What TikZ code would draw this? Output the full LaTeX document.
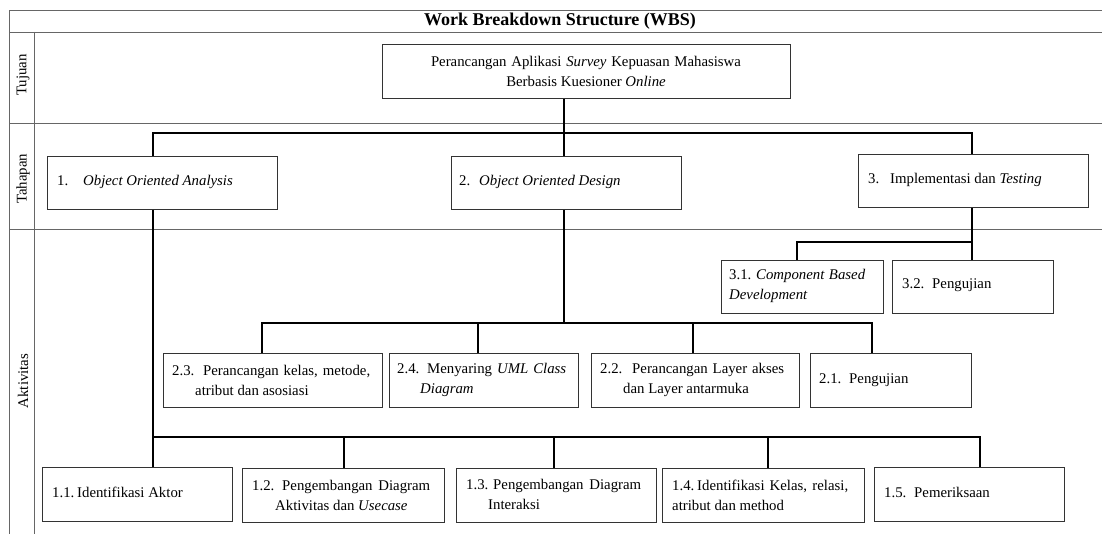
\documentclass[tikz,border=0pt]{standalone}
\usepackage{fontspec}
\setmainfont{Liberation Serif}
\usetikzlibrary{calc}
\newcommand\wnum[2]{\makebox[#1pt][l]{#2}}
\begin{document}
\begin{tikzpicture}[x=1pt,y=-1pt,
  grid/.style={draw=black!60, line width=0.9pt},
  box/.style={draw=black!80, line width=1pt, fill=white, rectangle, inner sep=0pt, anchor=north west},
  conn/.style={draw=black, line width=1.6pt, line join=miter},
  txt/.style={font=\fontsize{14.8}{20}\selectfont, inner sep=0pt, anchor=west, align=left},
  lbl/.style={font=\fontsize{14.8}{17}\selectfont, rotate=90, inner sep=0pt}]
\useasboundingbox (0,0) rectangle (1102,534);
\fill[white] (0,0) rectangle (1102,534);

% table frame
\draw[grid] (1102,10) -- (9,10) -- (9,534);
\draw[grid] (9,32) -- (1102,32);
\draw[grid] (34,32) -- (34,534);
\draw[grid] (9,123) -- (1102,123);
\draw[grid] (9,229) -- (1102,229);

\node[font=\fontsize{18}{20}\selectfont\bfseries, inner sep=0pt] (title) at (560,21) {Work Breakdown Structure (WBS)};
\node[lbl] (ltuj) at (23,75) {Tujuan};
\node[lbl] (ltah) at (23,179) {Tahapan};
\node[lbl] (lakt) at (23,381) {Aktivitas};

% bus coordinates
\coordinate (h0L) at (153,133);
\coordinate (h0M) at (564,133);
\coordinate (h0R) at (972,133);
\coordinate (h3R) at (972,242);
\coordinate (h3L) at (797,242);
\coordinate (h2L) at (262,323);
\coordinate (d24) at (478,323);
\coordinate (h2M) at (564,323);
\coordinate (d22) at (693,323);
\coordinate (h2R) at (872,323);
\coordinate (h1L) at (153,437);
\coordinate (d12) at (344,437);
\coordinate (d13) at (554,437);
\coordinate (d14) at (768,437);
\coordinate (h1R) at (980,437);

% boxes
\node[box, minimum width=408pt, minimum height=54pt] (top) at (382,44) {};
\node[box, minimum width=230pt, minimum height=53pt] (b1) at (47,156) {};
\node[box, minimum width=230pt, minimum height=53pt] (b2) at (451,156) {};
\node[box, minimum width=230pt, minimum height=53pt] (b3) at (858,154) {};
\node[box, minimum width=162pt, minimum height=53pt] (b31) at (721,260) {};
\node[box, minimum width=161pt, minimum height=53pt] (b32) at (892,260) {};
\node[box, minimum width=219pt, minimum height=54pt] (b23) at (163,353) {};
\node[box, minimum width=189pt, minimum height=54pt] (b24) at (389,353) {};
\node[box, minimum width=208pt, minimum height=54pt] (b22) at (591,353) {};
\node[box, minimum width=161pt, minimum height=54pt] (b21) at (810,353) {};
\node[box, minimum width=190pt, minimum height=54pt] (b11) at (42,467) {};
\node[box, minimum width=202pt, minimum height=54pt] (b12) at (242,468) {};
\node[box, minimum width=200pt, minimum height=54pt] (b13) at (456,468) {};
\node[box, minimum width=202pt, minimum height=54pt] (b14) at (662,468) {};
\node[box, minimum width=190pt, minimum height=54pt] (b15) at (874,467) {};

% connectors
\draw[conn] (top.south -| h0M) -- (h0M) -- (b2.north -| h0M);
\draw[conn] (b1.north -| h0L) -- (h0L) -- (h0R) -- (b3.north -| h0R);
\draw[conn] (b3.south -| h3R) -- (b32.north -| h3R);
\draw[conn] (h3R) -- (h3L) -- (b31.north -| h3L);
\draw[conn] (b2.south -| h2M) -- (h2M);
\draw[conn] (b23.north -| h2L) -- (h2L) -- (h2R) -- (b21.north -| h2R);
\draw[conn] (d24) -- (b24.north -| d24);
\draw[conn] (d22) -- (b22.north -| d22);
\draw[conn] (b1.south -| h1L) -- (b11.north -| h1L);
\draw[conn] (h1L) -- (h1R) -- (b15.north -| h1R);
\draw[conn] (d12) -- (b12.north -| d12);
\draw[conn] (d13) -- (b13.north -| d13);
\draw[conn] (d14) -- (b14.north -| d14);

% texts
\node[txt, anchor=center, align=center] (ttop) at (586,71) {\makebox[310pt][s]{Perancangan Aplikasi \textit{Survey} Kepuasan Mahasiswa}\\Berbasis Kuesioner \textit{Online}};
\node[txt] (t1) at (57,182) {\wnum{26}{1.}\textit{Object Oriented Analysis}};
\node[txt] (t2) at (459,182) {\wnum{20}{2.}\textit{Object Oriented Design}};
\node[txt] (t3) at (868,180) {\wnum{22}{3.}Implementasi dan \textit{Testing}};
\node[txt] (t31) at (729,286) {\makebox[136pt][s]{\wnum{27}{3.1.}\textit{Component Based}}\\\textit{Development}};
\node[txt] (t32) at (902,285) {\wnum{30}{3.2.}Pengujian};
\node[txt] (t23) at (172,380) {\makebox[198pt][s]{\wnum{31}{2.3.}Perancangan kelas, metode,}\\\hspace*{23pt}atribut dan asosiasi};
\node[txt] (t24) at (397,380) {\makebox[169pt][s]{\wnum{30}{2.4.}Menyaring \textit{UML Class}}\\\hspace*{23pt}\textit{Diagram}};
\node[txt] (t22) at (600,380) {\makebox[184pt][s]{\wnum{32}{2.2.}Perancangan Layer akses}\\\hspace*{23pt}dan Layer antarmuka};
\node[txt] (t21) at (819,380) {\wnum{30}{2.1.}Pengujian};
\node[txt] (t11) at (52,492) {\wnum{25}{1.1.}Identifikasi Aktor};
\node[txt] (t12) at (252,495) {\makebox[178pt][s]{\wnum{30}{1.2.}Pengembangan Diagram}\\\hspace*{23pt}Aktivitas dan \textit{Usecase}};
\node[txt] (t13) at (466,494) {\makebox[175pt][s]{\wnum{27}{1.3.}Pengembangan Diagram}\\\hspace*{22pt}Interaksi};
\node[txt] (t14) at (672,495) {\makebox[176pt][s]{\wnum{25}{1.4.}Identifikasi Kelas, relasi,}\\atribut dan method};
\node[txt] (t15) at (884,492) {\wnum{30}{1.5.}Pemeriksaan};
\end{tikzpicture}
\end{document}
